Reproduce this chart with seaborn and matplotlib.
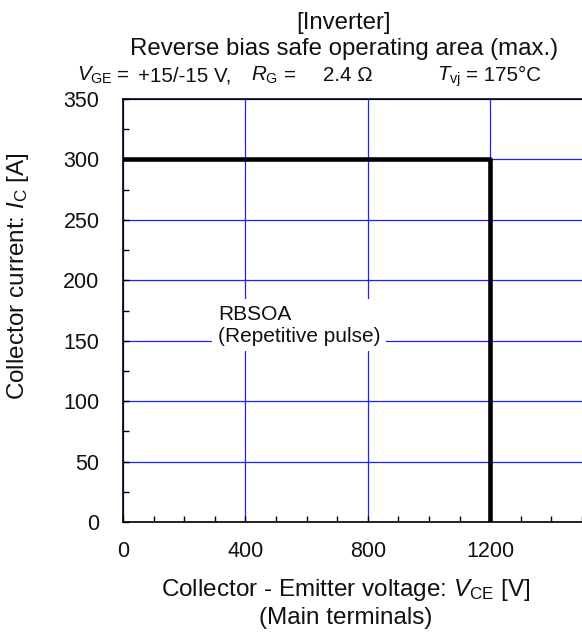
import matplotlib
matplotlib.use("Agg")
import matplotlib.pyplot as plt
from matplotlib.ticker import MultipleLocator
import seaborn as sns
import pandas as pd

# Data: RBSOA boundary (max.)
vce = [0, 1200, 1200]
ic = [300, 300, 0]
x_ticks = [0, 400, 800, 1200]
y_ticks = [0, 50, 100, 150, 200, 250, 300, 350]

sns.set_style("ticks")
plt.rcParams['font.family'] = ['Liberation Sans', 'DejaVu Sans']
plt.rcParams['mathtext.fontset'] = 'custom'
plt.rcParams['mathtext.rm'] = 'Liberation Sans'
plt.rcParams['mathtext.it'] = 'Liberation Sans:italic'
plt.rcParams['mathtext.bf'] = 'Liberation Sans:bold'

W, H = 582, 634
fig = plt.figure(figsize=(W / 100, H / 100), dpi=100)
ax = fig.add_axes([123 / W, 1 - 522 / H, (W - 123) / W, (522 - 99) / H])

df = pd.DataFrame({"VCE": vce, "IC": ic})
sns.lineplot(data=df, x="VCE", y="IC", sort=False, estimator=None,
             color="black", linewidth=3.3, ax=ax, zorder=5)

ax.set_xlim(0, 1500)
ax.set_ylim(0, 350)
ax.set_xticks(x_ticks)
ax.set_yticks(y_ticks)
ax.xaxis.set_minor_locator(MultipleLocator(100))
ax.yaxis.set_minor_locator(MultipleLocator(25))
ax.grid(True, which="major", color="#2020ff", linewidth=0.9)
ax.set_axisbelow(True)
ax.tick_params(which="both", direction="in", length=4, width=1, color="black",
               labelsize=15.5, labelcolor="#111111")
ax.tick_params(axis="y", pad=17)
ax.tick_params(axis="x", pad=14)
ax.set_xlabel("")
ax.set_ylabel("")
for s in ["left", "bottom", "top"]:
    ax.spines[s].set_color("black")
    ax.spines[s].set_linewidth(1.2)
ax.spines["right"].set_visible(False)

ax.text(310, 163, "RBSOA\n(Repetitive pulse)", fontsize=15, color="#111111",
        ha="left", va="center", linespacing=1.2, zorder=4,
        bbox=dict(facecolor="white", edgecolor="none", pad=4))

tc = "#111111"
def ftext(x, y, s, fs, ha="left", va="baseline", **kw):
    fig.text(x / W, 1 - y / H, s, ha=ha, va=va, fontsize=fs, color=tc, **kw)

ftext(344, 29, "[Inverter]", 17.3, ha="center")
ftext(344, 55, "Reverse bias safe operating area (max.)", 17.3, ha="center")
fs3 = 14.8
ftext(77, 81, r"$V_{\mathrm{GE}}$", fs3)
ftext(117, 81, "=", fs3)
ftext(138, 81, "+15/-15 V,", fs3)
ftext(251, 81, r"$R_{\mathrm{G}}$", fs3)
ftext(284, 81, "=", fs3)
ftext(323, 81, "2.4 Ω", fs3)
ftext(437, 81, r"$T_{\mathrm{vj}}$", fs3)
ftext(466, 81, "= 175°C", fs3)

ftext(346, 590, r"Collector - Emitter voltage: $V_{\mathrm{CE}}$ [V]", 17.5,
      ha="center", va="center")
ftext(346, 618, "(Main terminals)", 17.5, ha="center", va="center")
ftext(18, 276, r"Collector current: $I_{\mathrm{C}}$ [A]", 17.5, ha="center",
      va="center", rotation=90)

fig.savefig("out.png", dpi=100)
